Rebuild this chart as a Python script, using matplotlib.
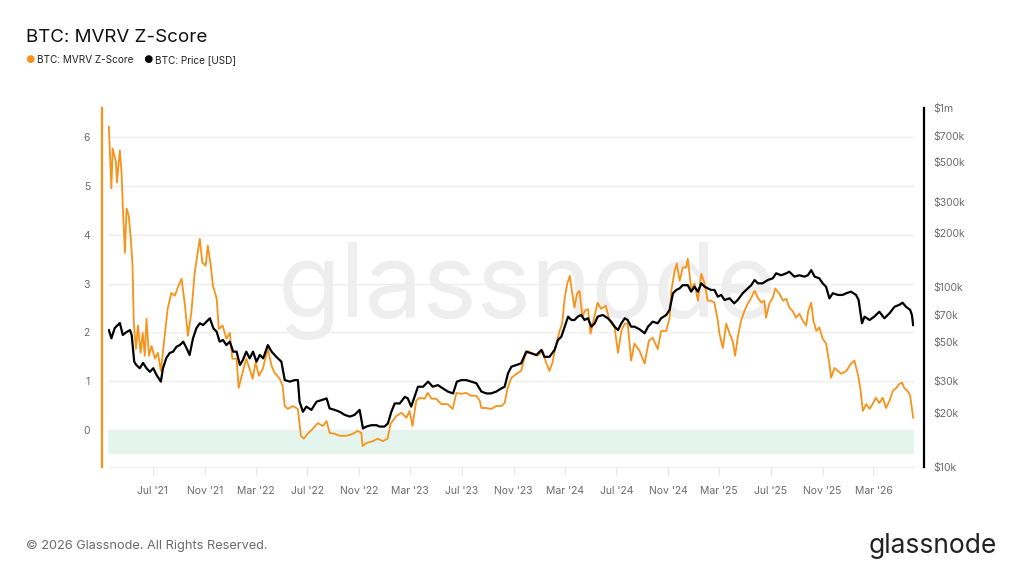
import numpy as np
import pandas as pd
import matplotlib
matplotlib.use('Agg')
import matplotlib.pyplot as plt
import matplotlib.dates as mdates
from matplotlib.ticker import FixedLocator, FixedFormatter, NullLocator

plt.rcParams['font.family'] = ['Inter', 'DejaVu Sans']

# MVRV Z-Score
z_dates = [
    "2021-03-19", "2021-03-25", "2021-03-28", "2021-04-05", "2021-04-07", "2021-04-14", "2021-04-18", "2021-04-21", "2021-04-26", "2021-04-30",
    "2021-05-05", "2021-05-10", "2021-05-14", "2021-05-17", "2021-05-22", "2021-05-27", "2021-06-02", "2021-06-07", "2021-06-12", "2021-06-16",
    "2021-06-22", "2021-06-28", "2021-07-06", "2021-07-13", "2021-07-20", "2021-07-29", "2021-08-05", "2021-08-14", "2021-08-22", "2021-08-29",
    "2021-09-07", "2021-09-15", "2021-09-22", "2021-09-30", "2021-10-08", "2021-10-20", "2021-10-26", "2021-11-03", "2021-11-08", "2021-11-15",
    "2021-11-20", "2021-11-29", "2021-12-04", "2021-12-13", "2021-12-22", "2021-12-30", "2022-01-05", "2022-01-15", "2022-01-20", "2022-01-29",
    "2022-02-07", "2022-02-15", "2022-02-22", "2022-03-01", "2022-03-09", "2022-03-18", "2022-03-30", "2022-04-08", "2022-04-15", "2022-04-27",
    "2022-05-04", "2022-05-09", "2022-05-16", "2022-05-28", "2022-06-09", "2022-06-16", "2022-06-23", "2022-07-02", "2022-07-14", "2022-07-26",
    "2022-08-07", "2022-08-16", "2022-08-23", "2022-09-04", "2022-09-16", "2022-10-02", "2022-10-17", "2022-10-28", "2022-11-06", "2022-11-09",
    "2022-11-18", "2022-12-03", "2022-12-15", "2022-12-27", "2023-01-07", "2023-01-14", "2023-01-19", "2023-01-28", "2023-02-09", "2023-02-21",
    "2023-02-28", "2023-03-07", "2023-03-16", "2023-03-24", "2023-04-05", "2023-04-12", "2023-04-21", "2023-05-02", "2023-05-14", "2023-05-29",
    "2023-06-10", "2023-06-19", "2023-07-01", "2023-07-12", "2023-07-24", "2023-08-05", "2023-08-13", "2023-08-17", "2023-08-29", "2023-09-09",
    "2023-09-21", "2023-10-03", "2023-10-11", "2023-10-18", "2023-10-27", "2023-11-08", "2023-11-19", "2023-11-27", "2023-12-04", "2023-12-16",
    "2023-12-28", "2024-01-09", "2024-01-17", "2024-01-25", "2024-02-01", "2024-02-10", "2024-02-18", "2024-02-24", "2024-03-01", "2024-03-07",
    "2024-03-13", "2024-03-19", "2024-03-24", "2024-03-30", "2024-04-05", "2024-04-12", "2024-04-17", "2024-04-25", "2024-05-01", "2024-05-08",
    "2024-05-18", "2024-05-26", "2024-06-06", "2024-06-15", "2024-06-27", "2024-07-05", "2024-07-13", "2024-07-21", "2024-07-28", "2024-08-05",
    "2024-08-13", "2024-08-25", "2024-09-06", "2024-09-16", "2024-09-25", "2024-10-07", "2024-10-15", "2024-10-27", "2024-11-04", "2024-11-08",
    "2024-11-16", "2024-11-21", "2024-11-28", "2024-12-05", "2024-12-13", "2024-12-17", "2024-12-25", "2025-01-02", "2025-01-10", "2025-01-18",
    "2025-01-26", "2025-02-02", "2025-02-10", "2025-02-18", "2025-02-26", "2025-03-02", "2025-03-10", "2025-03-18", "2025-03-26", "2025-04-02",
    "2025-04-08", "2025-04-14", "2025-04-22", "2025-04-30", "2025-05-08", "2025-05-16", "2025-05-24", "2025-06-01", "2025-06-09", "2025-06-16",
    "2025-06-20", "2025-06-28", "2025-07-06", "2025-07-12", "2025-07-22", "2025-07-30", "2025-08-07", "2025-08-14", "2025-08-22", "2025-08-30",
    "2025-09-07", "2025-09-15", "2025-09-23", "2025-09-28", "2025-10-05", "2025-10-10", "2025-10-17", "2025-10-24", "2025-11-01", "2025-11-09",
    "2025-11-17", "2025-11-21", "2025-11-29", "2025-12-07", "2025-12-15", "2025-12-27", "2026-01-07", "2026-01-15", "2026-01-23", "2026-01-29",
    "2026-02-04", "2026-02-12", "2026-02-20", "2026-02-27", "2026-03-07", "2026-03-15", "2026-03-23", "2026-03-31", "2026-04-08", "2026-04-16",
    "2026-04-24", "2026-05-01", "2026-05-08", "2026-05-13", "2026-05-21", "2026-05-27", "2026-05-31", "2026-06-03",
]
z_values = [
    6.22, 4.95, 5.77, 5.48, 5.07, 5.73, 5.28, 4.6, 3.63, 4.54,
    4.39, 3.92, 3.37, 2.2, 1.66, 2.14, 1.58, 1.99, 1.52, 2.28,
    1.52, 1.72, 1.46, 1.58, 1.21, 1.93, 2.48, 2.81, 2.75, 2.92,
    3.1, 2.55, 1.93, 2.4, 3.22, 3.92, 3.43, 3.37, 3.78, 3.37,
    2.96, 2.69, 2.07, 2.14, 1.87, 1.99, 1.46, 1.46, 0.86, 1.17,
    1.46, 1.25, 1.05, 1.38, 1.11, 1.25, 1.66, 1.31, 1.17, 1.05,
    0.9, 0.49, 0.43, 0.49, 0.43, -0.12, -0.18, -0.08, 0.02, 0.14,
    0.08, 0.18, -0.06, -0.08, -0.12, -0.12, -0.08, -0.02, -0.06, -0.33,
    -0.27, -0.23, -0.18, -0.23, -0.18, 0.12, 0.18, 0.29, 0.35, 0.25,
    0.39, 0.08, 0.6, 0.66, 0.64, 0.76, 0.64, 0.64, 0.53, 0.53,
    0.43, 0.76, 0.74, 0.76, 0.7, 0.7, 0.6, 0.45, 0.45, 0.43,
    0.49, 0.49, 0.55, 0.86, 1.07, 1.15, 1.21, 1.48, 1.62, 1.56,
    1.52, 1.62, 1.38, 1.21, 1.38, 1.77, 2.03, 2.18, 2.71, 3.0,
    3.16, 2.79, 2.51, 2.79, 2.85, 2.3, 2.44, 2.48, 1.97, 2.24,
    2.61, 2.48, 2.55, 2.24, 2.1, 1.58, 2.03, 2.18, 2.18, 1.42,
    1.77, 1.62, 1.36, 1.83, 1.89, 1.66, 2.03, 2.03, 2.3, 2.85,
    3.26, 3.41, 3.06, 3.33, 3.33, 3.51, 2.9, 3.0, 2.65, 3.2,
    3.0, 2.65, 2.65, 2.61, 2.24, 1.97, 1.68, 2.18, 1.97, 1.83,
    1.52, 1.89, 2.24, 2.44, 2.59, 2.71, 2.85, 2.71, 2.61, 2.65,
    2.3, 2.59, 2.71, 2.9, 2.79, 2.65, 2.69, 2.51, 2.44, 2.3,
    2.38, 2.24, 2.14, 2.44, 2.61, 2.24, 2.03, 2.1, 1.87, 1.77,
    1.36, 1.07, 1.27, 1.21, 1.15, 1.21, 1.36, 1.42, 1.15, 0.86,
    0.39, 0.53, 0.43, 0.53, 0.66, 0.55, 0.66, 0.45, 0.6, 0.8,
    0.86, 0.94, 0.97, 0.86, 0.8, 0.7, 0.45, 0.25,
]

# BTC price in thousands of USD
price_dates = [
    "2021-03-19", "2021-03-25", "2021-04-02", "2021-04-14", "2021-04-21", "2021-04-30", "2021-05-08", "2021-05-12", "2021-05-18", "2021-05-23",
    "2021-05-31", "2021-06-08", "2021-06-16", "2021-06-24", "2021-07-02", "2021-07-10", "2021-07-20", "2021-07-25", "2021-08-02", "2021-08-10",
    "2021-08-18", "2021-08-26", "2021-09-03", "2021-09-11", "2021-09-19", "2021-09-26", "2021-10-04", "2021-10-12", "2021-10-20", "2021-10-28",
    "2021-11-05", "2021-11-13", "2021-11-21", "2021-11-29", "2021-12-06", "2021-12-14", "2021-12-22", "2021-12-30", "2022-01-07", "2022-01-15",
    "2022-01-23", "2022-01-30", "2022-02-07", "2022-02-15", "2022-02-23", "2022-03-03", "2022-03-11", "2022-03-19", "2022-03-30", "2022-04-08",
    "2022-04-19", "2022-05-01", "2022-05-09", "2022-05-21", "2022-06-02", "2022-06-09", "2022-06-13", "2022-06-21", "2022-06-29", "2022-07-11",
    "2022-07-23", "2022-08-04", "2022-08-16", "2022-08-23", "2022-09-04", "2022-09-16", "2022-09-28", "2022-10-10", "2022-10-21", "2022-11-02",
    "2022-11-10", "2022-11-18", "2022-11-30", "2022-12-12", "2022-12-19", "2022-12-31", "2023-01-08", "2023-01-16", "2023-01-24", "2023-02-05",
    "2023-02-17", "2023-02-24", "2023-03-04", "2023-03-12", "2023-03-20", "2023-04-01", "2023-04-13", "2023-04-24", "2023-05-06", "2023-05-18",
    "2023-05-30", "2023-06-11", "2023-06-20", "2023-07-01", "2023-07-12", "2023-07-24", "2023-08-05", "2023-08-17", "2023-08-29", "2023-09-09",
    "2023-09-21", "2023-10-03", "2023-10-11", "2023-10-19", "2023-10-27", "2023-11-08", "2023-11-19", "2023-12-01", "2023-12-13", "2023-12-25",
    "2024-01-06", "2024-01-13", "2024-01-25", "2024-02-06", "2024-02-14", "2024-02-22", "2024-03-01", "2024-03-09", "2024-03-17", "2024-03-24",
    "2024-04-01", "2024-04-09", "2024-04-17", "2024-04-25", "2024-05-03", "2024-05-11", "2024-05-18", "2024-05-30", "2024-06-11", "2024-06-19",
    "2024-06-27", "2024-07-05", "2024-07-13", "2024-07-21", "2024-07-28", "2024-08-05", "2024-08-13", "2024-08-25", "2024-09-06", "2024-09-14",
    "2024-09-25", "2024-10-07", "2024-10-15", "2024-10-27", "2024-11-04", "2024-11-12", "2024-11-20", "2024-11-28", "2024-12-05", "2024-12-17",
    "2024-12-25", "2025-01-02", "2025-01-10", "2025-01-18", "2025-01-26", "2025-02-02", "2025-02-10", "2025-02-18", "2025-02-26", "2025-03-06",
    "2025-03-14", "2025-03-26", "2025-04-06", "2025-04-14", "2025-04-26", "2025-05-04", "2025-05-16", "2025-05-24", "2025-06-01", "2025-06-12",
    "2025-06-24", "2025-07-06", "2025-07-14", "2025-07-26", "2025-08-07", "2025-08-14", "2025-08-26", "2025-09-07", "2025-09-19", "2025-09-27",
    "2025-10-05", "2025-10-13", "2025-10-24", "2025-11-01", "2025-11-09", "2025-11-17", "2025-11-25", "2025-12-07", "2025-12-18", "2025-12-27",
    "2026-01-07", "2026-01-19", "2026-01-25", "2026-02-02", "2026-02-08", "2026-02-20", "2026-03-03", "2026-03-15", "2026-03-27", "2026-04-08",
    "2026-04-20", "2026-05-01", "2026-05-09", "2026-05-17", "2026-05-27", "2026-05-31", "2026-06-03",
]
price_k = [
    57.9, 52.1, 59.5, 63.4, 54.4, 56.5, 57.9, 54.4, 38.6, 37.0,
    35.5, 38.0, 35.5, 33.9, 35.5, 32.5, 29.9, 35.5, 40.5, 43.2,
    43.9, 46.8, 47.8, 49.9, 45.8, 42.1, 52.1, 59.3, 63.2, 61.8,
    64.5, 67.4, 59.3, 56.7, 49.9, 51.0, 47.8, 49.9, 43.9, 43.9,
    37.0, 39.5, 43.9, 40.3, 43.9, 38.6, 42.1, 40.3, 47.8, 43.9,
    41.1, 38.6, 30.5, 29.9, 30.5, 30.5, 23.1, 20.3, 21.7, 20.8,
    23.1, 23.6, 24.1, 21.2, 20.8, 20.3, 19.5, 19.1, 19.5, 20.8,
    16.4, 16.8, 17.1, 17.1, 16.8, 16.8, 17.5, 20.3, 22.6, 22.6,
    24.6, 24.1, 21.7, 24.6, 28.0, 28.0, 29.9, 28.0, 28.6, 27.4,
    26.3, 25.7, 29.9, 30.5, 30.5, 29.9, 29.3, 26.3, 25.7, 25.7,
    26.3, 27.4, 28.0, 33.3, 36.2, 37.0, 37.8, 43.9, 43.0, 42.1,
    44.9, 41.1, 41.1, 44.9, 51.0, 53.2, 60.5, 68.8, 65.9, 65.9,
    68.8, 70.3, 65.9, 67.4, 60.5, 63.2, 68.8, 70.3, 67.4, 64.5,
    60.5, 57.9, 63.2, 67.4, 65.9, 60.5, 60.5, 58.5, 55.6, 60.5,
    64.5, 63.2, 67.4, 70.3, 75.0, 92.9, 96.9, 99.0, 103.0, 103.0,
    94.8, 101.0, 94.8, 105.5, 101.0, 99.0, 96.9, 96.9, 88.9, 90.9,
    85.2, 87.0, 81.6, 85.2, 92.9, 96.9, 103.0, 110.0, 105.5, 105.5,
    110.0, 112.5, 120.0, 117.0, 120.0, 122.5, 115.0, 117.0, 115.0, 117.0,
    125.0, 115.0, 112.5, 105.5, 101.0, 87.0, 92.9, 90.9, 90.9, 92.9,
    94.8, 90.9, 85.2, 63.2, 68.8, 65.9, 68.8, 73.3, 67.4, 71.8,
    78.1, 80.0, 82.3, 78.1, 75.0, 70.3, 61.8,
]

price_ticks = [1e4, 2e4, 3e4, 5e4, 7e4, 1e5, 2e5, 3e5, 5e5, 7e5, 1e6]
price_labels = ['$10k', '$20k', '$30k', '$50k', '$70k', '$100k', '$200k',
                '$300k', '$500k', '$700k', '$1m']

orange = '#f7931a'
grey_text = '#6b6b6b'

fig = plt.figure(figsize=(10.24, 5.76), dpi=100)
ax = fig.add_axes([108 / 1024, 1 - 467 / 576, 806 / 1024, 359 / 576])
ax2 = ax.twinx()

zd = pd.to_datetime(z_dates)
pdates = pd.to_datetime(price_dates)

# watermark + low band
ax.text(0.52, 0.49, 'glassnode', transform=ax.transAxes, fontsize=74,
        color='#eeeeee', ha='center', va='center', zorder=0)
ax.axhspan(-0.5, 0, color='#e4f5ee', lw=0, zorder=0.5)

ax.plot(zd, z_values, color=orange, lw=1.3, zorder=2)
ax2.plot(pdates, np.array(price_k) * 1e3, color='black', lw=1.6)

ax.set_xlim(pd.Timestamp('2021-03-17'), pd.Timestamp('2026-06-05'))
ax.set_ylim(-0.76, 6.6)
ax2.set_yscale('log')
ax2.set_ylim(1e4, 1e6)

# left axis
ax.set_yticks(range(0, 7))
ax.grid(axis='y', color='#eeeeee', lw=1)
ax.set_axisbelow(True)
ax.tick_params(axis='y', length=0, pad=9, labelsize=7.5, labelcolor=grey_text)
for s in ['top', 'right']:
    ax.spines[s].set_visible(False)
ax.spines['left'].set_color(orange)
ax.spines['left'].set_linewidth(1.6)
ax.spines['left'].set_position(('outward', 4))
ax.spines['bottom'].set_color('#eeeeee')

# x axis
ax.xaxis.set_major_locator(mdates.MonthLocator(bymonth=[3, 7, 11]))
ax.xaxis.set_major_formatter(mdates.DateFormatter("%b '%y"))
ax.tick_params(axis='x', length=6, color='#e6e6e6', pad=8, labelsize=7.5,
               labelcolor=grey_text)

# right axis
ax2.yaxis.set_major_locator(FixedLocator(price_ticks))
ax2.yaxis.set_major_formatter(FixedFormatter(price_labels))
ax2.yaxis.set_minor_locator(NullLocator())
ax2.tick_params(axis='y', length=0, pad=7, labelsize=7.5, labelcolor=grey_text)
for s in ['top', 'left', 'bottom']:
    ax2.spines[s].set_visible(False)
ax2.spines['right'].set_color('black')
ax2.spines['right'].set_linewidth(1.6)
ax2.spines['right'].set_position(('outward', 7))

# title + legend
fig.text(26 / 1024, 1 - 37 / 576, 'BTC: MVRV Z-Score', fontsize=13.5,
         color='#111111', va='center', ha='left')
fig.text(25 / 1024, 1 - 60 / 576, '●', fontsize=7.5, color=orange, va='center')
fig.text(37 / 1024, 1 - 60 / 576, 'BTC: MVRV Z-Score', fontsize=7.2,
         color='#222222', va='center')
fig.text(143 / 1024, 1 - 60 / 576, '●', fontsize=7.5, color='black', va='center')
fig.text(155 / 1024, 1 - 60 / 576, 'BTC: Price [USD]', fontsize=7.2,
         color='#222222', va='center')

# footer
fig.text(26 / 1024, 1 - 546 / 576, '© 2026 Glassnode. All Rights Reserved.',
         fontsize=9.2, color=grey_text, va='center')
fig.text(997 / 1024, 1 - 546 / 576, 'glassnode', fontsize=19,
         color='#222222', va='center', ha='right')

fig.savefig('out.png', dpi=100)
